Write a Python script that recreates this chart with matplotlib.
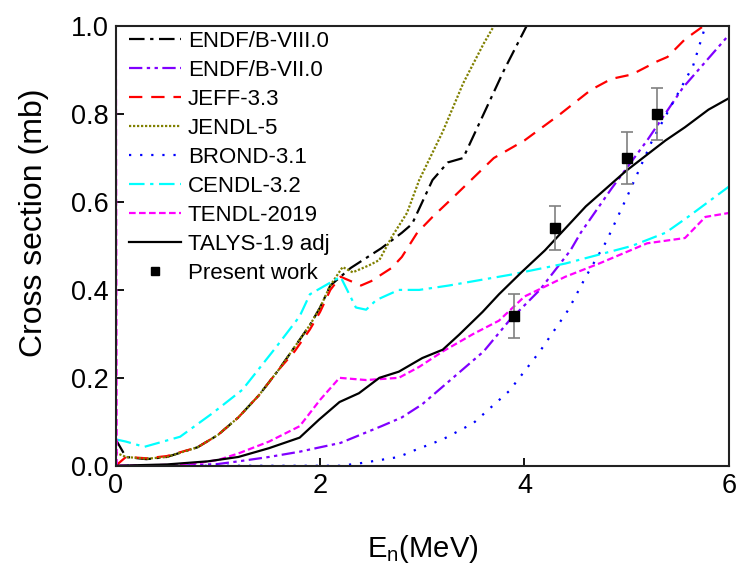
import matplotlib
matplotlib.use("Agg")
import matplotlib.pyplot as plt
from matplotlib.lines import Line2D

plt.rcParams['font.family'] = ['Liberation Sans', 'DejaVu Sans']

# ENDF/B-VIII.0
e_endf8 = [0.0, 0.1, 0.3, 0.5, 0.8, 1.0, 1.2, 1.4, 1.6, 1.75, 1.9, 2.0, 2.1, 2.2, 2.3, 2.5, 2.6, 2.8, 2.9, 3.0, 3.1, 3.25, 3.4, 3.6, 3.8, 4.02]
s_endf8 = [0.06, 0.02, 0.015, 0.02, 0.042, 0.07, 0.11, 0.16, 0.22, 0.27, 0.32, 0.36, 0.41, 0.43, 0.45, 0.48, 0.495, 0.53, 0.55, 0.60, 0.65, 0.69, 0.70, 0.80, 0.90, 1.0]

# ENDF/B-VII.0
e_endf7 = [0.0, 0.3, 0.7, 1.0, 1.2, 1.5, 1.8, 2.2, 2.6, 2.8, 3.0, 3.25, 3.6, 3.85, 4.15, 4.45, 4.55, 4.85, 5.2, 5.55, 6.0]
s_endf7 = [0.0, 0.0, 0.001, 0.004, 0.01, 0.02, 0.032, 0.052, 0.09, 0.11, 0.14, 0.19, 0.26, 0.33, 0.40, 0.49, 0.53, 0.63, 0.74, 0.86, 0.98]

# JEFF-3.3
e_jeff = [0.0, 0.1, 0.3, 0.5, 0.8, 1.0, 1.2, 1.4, 1.6, 1.75, 1.9, 2.0, 2.1, 2.2, 2.4, 2.5, 2.7, 2.8, 2.95, 3.1, 3.3, 3.5, 3.7, 4.0, 4.35, 4.65, 4.85, 5.05, 5.3, 5.4, 5.57, 5.75]
s_jeff = [0.0, 0.02, 0.017, 0.022, 0.042, 0.07, 0.11, 0.16, 0.22, 0.26, 0.31, 0.35, 0.40, 0.43, 0.41, 0.42, 0.45, 0.475, 0.53, 0.566, 0.61, 0.655, 0.70, 0.74, 0.80, 0.855, 0.88, 0.89, 0.92, 0.93, 0.97, 1.0]

# JENDL-5
e_jendl = [0.0, 0.1, 0.3, 0.5, 0.8, 1.0, 1.2, 1.4, 1.6, 1.75, 1.9, 2.0, 2.1, 2.22, 2.32, 2.48, 2.58, 2.7, 2.85, 2.97, 3.2, 3.4, 3.6, 3.7]
s_jendl = [0.03, 0.02, 0.016, 0.02, 0.042, 0.07, 0.11, 0.16, 0.22, 0.27, 0.32, 0.36, 0.41, 0.452, 0.44, 0.456, 0.468, 0.52, 0.575, 0.65, 0.76, 0.87, 0.96, 1.0]

# BROND-3.1
e_brond = [0.0, 1.0, 2.2, 2.4, 2.77, 2.9, 3.2, 3.5, 3.85, 4.15, 4.43, 4.6, 4.8, 5.0, 5.25, 5.45, 5.65, 5.77]
s_brond = [0.0, 0.0, 0.0, 0.006, 0.02, 0.033, 0.06, 0.097, 0.17, 0.26, 0.355, 0.43, 0.51, 0.61, 0.74, 0.825, 0.91, 1.0]

# CENDL-3.2
e_cendl = [0.0, 0.1, 0.28, 0.63, 0.95, 1.24, 1.57, 1.8, 1.9, 2.2, 2.35, 2.45, 2.55, 2.77, 2.97, 3.26, 3.85, 4.4, 5.05, 5.38, 5.6, 6.0]
s_cendl = [0.06, 0.055, 0.043, 0.066, 0.12, 0.173, 0.27, 0.34, 0.39, 0.43, 0.36, 0.355, 0.377, 0.40, 0.40, 0.41, 0.434, 0.46, 0.50, 0.53, 0.566, 0.635]

# TENDL-2019
e_tendl = [0.0, 0.01, 0.5, 0.8, 1.0, 1.2, 1.5, 1.8, 2.0, 2.19, 2.45, 2.77, 2.97, 3.2, 3.5, 3.75, 4.0, 4.4, 4.73, 5.2, 5.57, 5.77, 6.0]
s_tendl = [1.2, 0.0, 0.002, 0.006, 0.013, 0.028, 0.055, 0.09, 0.15, 0.20, 0.195, 0.20, 0.225, 0.26, 0.30, 0.33, 0.385, 0.43, 0.46, 0.506, 0.518, 0.566, 0.575]

# TALYS-1.9 adj
e_talys = [0.0, 0.5, 0.9, 1.2, 1.5, 1.8, 1.99, 2.19, 2.38, 2.58, 2.77, 3.0, 3.2, 3.36, 3.59, 3.75, 3.97, 4.2, 4.6, 4.99, 5.38, 5.57, 5.8, 6.0]
s_talys = [0.0, 0.003, 0.01, 0.02, 0.04, 0.064, 0.105, 0.145, 0.165, 0.20, 0.214, 0.245, 0.264, 0.298, 0.35, 0.39, 0.44, 0.49, 0.59, 0.67, 0.74, 0.77, 0.81, 0.836]

# Present work
e_exp = [3.9, 4.3, 5.0, 5.3]
s_exp = [0.34, 0.54, 0.70, 0.80]
err_exp = [0.05, 0.05, 0.06, 0.06]

fig = plt.figure(figsize=(7.37, 5.68), dpi=100)
ax = fig.add_axes([0.157, 0.18, 0.832, 0.774])

lw = 1.6
ax.plot(e_endf8, s_endf8, color='black', lw=lw, dashes=(7, 2.5, 1.5, 2.5), label='ENDF/B-VIII.0')
ax.plot(e_endf7, s_endf7, color='#8000FF', lw=lw, dashes=(6, 2, 1.5, 2, 1.5, 2), label='ENDF/B-VII.0')
ax.plot(e_jeff, s_jeff, color='red', lw=lw, dashes=(6, 4), label='JEFF-3.3')
ax.plot(e_jendl, s_jendl, color='#808000', lw=lw, dashes=(1, 0.8), label='JENDL-5')
ax.plot(e_brond, s_brond, color='blue', lw=lw, dashes=(1, 4), label='BROND-3.1')
ax.plot(e_cendl, s_cendl, color='cyan', lw=lw, dashes=(7, 2.5, 1.5, 2.5), label='CENDL-3.2')
ax.plot(e_tendl, s_tendl, color='magenta', lw=lw, dashes=(3, 1.5), label='TENDL-2019')
ax.plot(e_talys, s_talys, color='black', lw=lw, label='TALYS-1.9 adj')
ax.errorbar(e_exp, s_exp, yerr=err_exp, fmt='s', color='black', ms=7,
            ecolor='gray', elinewidth=1.2, capsize=4, capthick=1.2)

ax.set_xlim(0, 6)
ax.set_ylim(0, 1.0)
ax.set_xticks([0, 2, 4, 6])
ax.set_yticks([0.0, 0.2, 0.4, 0.6, 0.8, 1.0])
ax.set_yticklabels(['0.0', '0.2', '0.4', '0.6', '0.8', '1.0'])
ax.tick_params(direction='in', length=6, width=1.3, labelsize=19.5, pad=5)
for sp in ax.spines.values():
    sp.set_linewidth(1.5)
    sp.set_color('#222222')

ax.set_xlabel('E$_\\mathregular{n}$(MeV)', fontsize=21, labelpad=25)
ax.set_ylabel('Cross section (mb)', fontsize=23)
ax.yaxis.set_label_coords(-0.108, 0.552)

handles, labels = ax.get_legend_handles_labels()
handles.append(Line2D([], [], ls='none', marker='s', color='black', ms=6))
labels.append('Present work')
ax.legend(handles, labels, loc='upper left', frameon=False, fontsize=16,
          handlelength=2.35, handletextpad=0.3, labelspacing=0.36,
          borderaxespad=0.0, borderpad=0.2, bbox_to_anchor=(0.014, 1.0))

fig.savefig('out.png', dpi=100)
